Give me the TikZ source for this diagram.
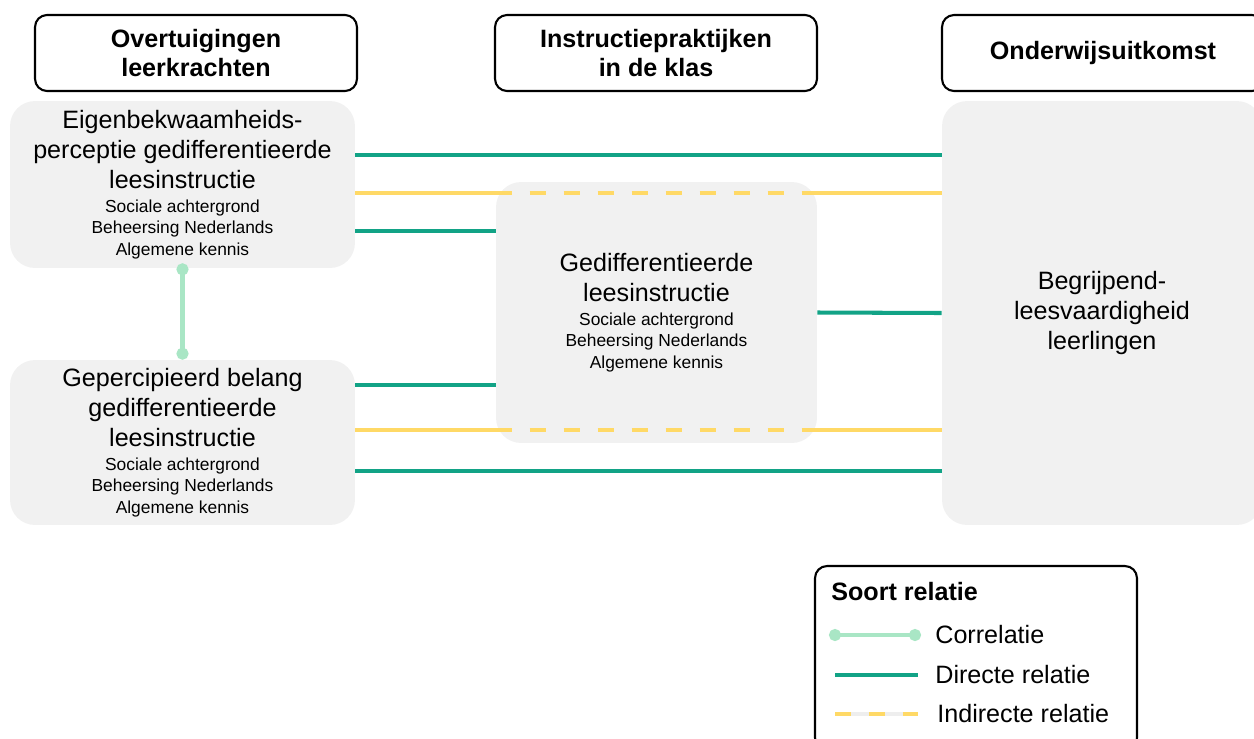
\documentclass[tikz,border=0pt]{standalone}
\usepackage{fontspec}
\setmainfont{Liberation Sans}
\usetikzlibrary{arrows.meta}
\definecolor{directgreen}{HTML}{12A386}
\definecolor{corrgreen}{HTML}{A9E6C5}
\definecolor{indyellow}{HTML}{FFD966}
\definecolor{boxgray}{HTML}{F1F1F1}
\definecolor{gapgray}{HTML}{EEEEEE}
\newcommand{\ctrl}{\fontsize{9.9}{12}\selectfont}
\newcommand{\ctrlvars}{\\[-3.6pt]\ctrl Sociale achtergrond\\[-5.1pt]\ctrl Beheersing Nederlands\\[-5.1pt]\ctrl Algemene kennis}
\tikzset{
  header/.style={draw=black, line width=1.2pt, rounded corners=0.24cm, minimum width=6.44cm, minimum height=1.52cm, inner sep=0pt, align=center, font=\fontsize{14.3}{16}\selectfont\bfseries},
  varbox/.style={fill=boxgray, rounded corners=0.5cm, inner sep=0pt, align=center, font=\fontsize{14.3}{17.2}\selectfont},
  legendtext/.style={anchor=west, inner sep=0pt, font=\fontsize{14.3}{17.2}\selectfont},
  direct/.style={draw=directgreen, line width=2.3pt},
  indirect/.style={draw=indyellow, line width=2.3pt},
  indirectdash/.style={indirect, dash pattern=on 0.32cm off 0.36cm},
  corr/.style={draw=corrgreen, line width=2.3pt, {Circle[length=0.24cm]}-{Circle[length=0.24cm]}}
}

\begin{document}
\begin{tikzpicture}[x=0.02cm, y=-0.02cm]
	\clip (0, 0) rectangle (1254, 738);
	
	% kolomkoppen
	\node[header] (hdrbel) at (196, 53) {Overtuigingen\\leerkrachten};
	\node[header] (hdrinstr) at (656, 53) {Instructiepraktijken\\in de klas};
	\node[header] (hdruit) at (1103, 53) {\raisebox{-2pt}{Onderwijsuitkomst}};
	
	% variabelen
	\node[varbox, minimum width=6.9cm, minimum height=3.34cm] (eigen) at (182.5, 184.5) {Eigenbekwaamheids-\\perceptie gedifferentieerde\\leesinstructie\ctrlvars};
	\node[varbox, minimum width=6.9cm, minimum height=3.3cm] (belang) at (182.5, 442.5) {Gepercipieerd belang\\gedifferentieerde\\leesinstructie\ctrlvars};
	\node[varbox, minimum width=6.4cm, minimum height=8.48cm] (uitk) at (1102, 313) {\raisebox{-3pt}{Begrijpend-}\\\raisebox{-3pt}{leesvaardigheid}\\\raisebox{-3pt}{leerlingen}};
	
	\coordinate (dirA) at (0, 155);
	\coordinate (indA) at (0, 193);
	\coordinate (dirAm) at (0, 231);
	\coordinate (dirBm) at (0, 385);
	\coordinate (indB) at (0, 430);
	\coordinate (dirB) at (0, 471);
	
	\draw[direct] (eigen.east |- dirA) -- (uitk.west |- dirA);
	\draw[indirect] (eigen.east |- indA) -- (uitk.west |- indA);
	\draw[indirect] (belang.east |- indB) -- (uitk.west |- indB);
	\draw[direct] (belang.east |- dirB) -- (uitk.west |- dirB);
	
	\node[varbox, minimum width=6.42cm, minimum height=5.22cm] (instr) at (656.5, 312.5) {Gedifferentieerde\\leesinstructie\ctrlvars};
	
	\draw[indirectdash] (instr.west |- indA) -- (instr.east |- indA);
	\draw[indirectdash] (instr.west |- indB) -- (instr.east |- indB);
	\draw[direct] (eigen.east |- dirAm) -- (instr.west |- dirAm);
	\draw[direct] (belang.east |- dirBm) -- (instr.west |- dirBm);
	\draw[direct] (instr.east) -- (uitk.west);
	
	\draw[corr, shorten <=-0.1cm] (eigen.south) -- (belang.north);
	
	% legenda
	\node[draw=black, line width=1.2pt, rounded corners=0.24cm, minimum width=6.44cm, minimum height=3.68cm] (legenda) at (976, 658) {};
	\node[legendtext, font=\fontsize{14.3}{17.2}\selectfont\bfseries] (soort) at (831, 592) {Soort relatie};
	\coordinate (l1a) at (829, 635);
	\coordinate (l1b) at (921, 635);
	\coordinate (l2a) at (835, 675);
	\coordinate (l2b) at (918, 675);
	\coordinate (l3a) at (835, 714);
	\coordinate (l3b) at (918, 714);
	\draw[corr] (l1a) -- (l1b);
	\draw[direct] (l2a) -- (l2b);
	\draw[draw=gapgray, line width=2.3pt] (l3a) -- (l3b);
	\draw[indirectdash] (l3a) -- (l3b);
	\node[legendtext] (corrtxt) at (935, 635) {Correlatie};
	\node[legendtext] (directtxt) at (935, 675) {Directe relatie};
	\node[legendtext] (indtxt) at (937, 714) {Indirecte relatie};
\end{tikzpicture}
\end{document}
